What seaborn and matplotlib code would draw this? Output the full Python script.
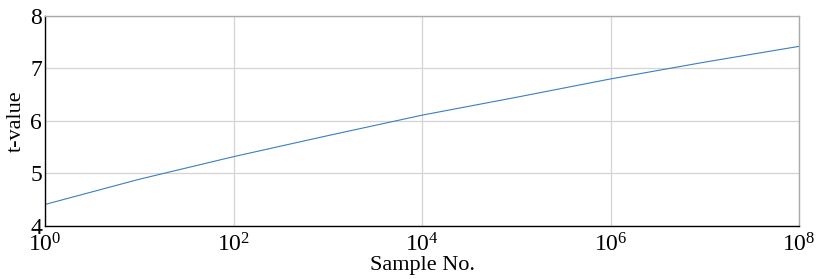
import matplotlib
matplotlib.use("Agg")
import matplotlib.pyplot as plt
import seaborn as sns
import pandas as pd
import numpy as np

sample_no = [1e0, 1e1, 1e2, 1e3, 1e4, 1e5, 1e6, 1e7, 1e8]
t_value = [4.41, 4.89, 5.32, 5.72, 6.11, 6.45, 6.80, 7.12, 7.42]

sns.set_style("whitegrid")
plt.rcParams["font.family"] = ["Liberation Serif", "DejaVu Serif"]
plt.rcParams["mathtext.fontset"] = "stix"
plt.rcParams["text.color"] = "black"
plt.rcParams["axes.labelcolor"] = "black"
plt.rcParams["xtick.color"] = "black"
plt.rcParams["ytick.color"] = "black"

df = pd.DataFrame({"Sample No.": sample_no, "t-value": t_value})

fig = plt.figure(figsize=(8.2, 2.79), dpi=100)
ax = fig.add_axes([0.0549, 0.19, 0.9195, 0.753])
sns.lineplot(data=df, x="Sample No.", y="t-value", ax=ax, color="#3a7fc1", linewidth=0.8)
ax.set_xscale("log")
ax.set_xlim(1, 1e8)
ax.set_ylim(4, 8)
ax.set_xticks([1e0, 1e2, 1e4, 1e6, 1e8])
ax.set_yticks([4, 5, 6, 7, 8])
ax.minorticks_off()
ax.grid(True, color="#d4d4d4", linewidth=0.9)
ax.tick_params(axis="y", labelsize=17, length=0, pad=2)
ax.tick_params(axis="x", labelsize=17, length=0, pad=5)
ax.set_xlabel("Sample No.", fontsize=16, labelpad=0)
ax.set_ylabel("t-value", fontsize=16, labelpad=3)
for s in ["left", "bottom"]:
    ax.spines[s].set_color("black")
    ax.spines[s].set_linewidth(1.0)
for s in ["top", "right"]:
    ax.spines[s].set_color("#aaaaaa")
    ax.spines[s].set_linewidth(1.0)

fig.savefig("out.png", dpi=100)
